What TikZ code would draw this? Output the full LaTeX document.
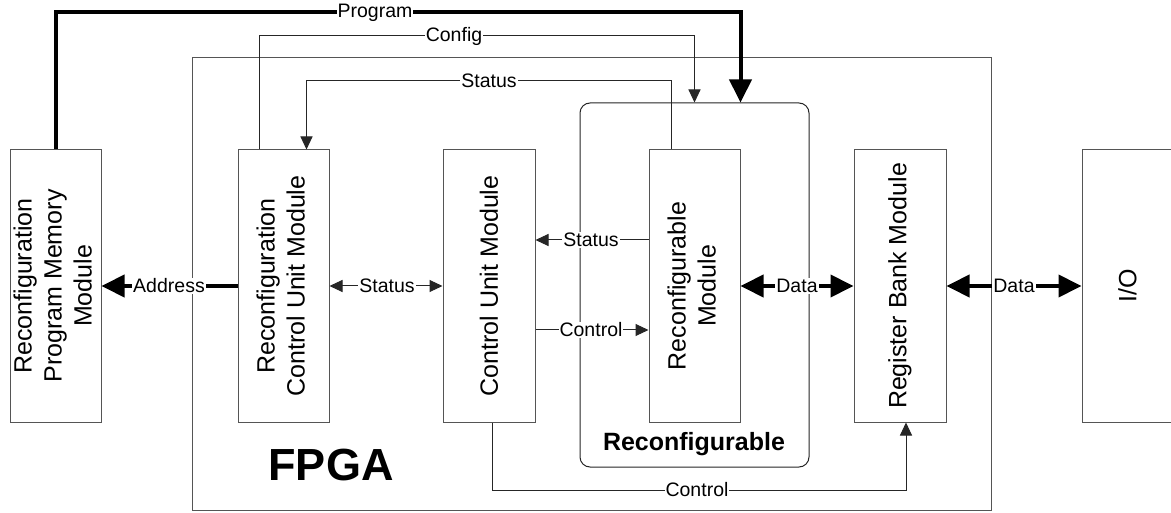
\documentclass[tikz,border=0pt]{standalone}
\usepackage{fontspec}
\setmainfont{Liberation Sans}
\usetikzlibrary{arrows.meta,calc}
\definecolor{edge}{RGB}{85,85,85}
\begin{document}
\begin{tikzpicture}[x=1pt,y=-1pt,
  box/.style={draw=edge, line width=1pt, inner sep=0pt, minimum height=272pt,
    font=\fontsize{25}{30}\selectfont},
  lbl/.style={fill=white, inner sep=1pt, font=\fontsize{19.5}{22}\selectfont},
  conn/.style={draw=black!85, line width=1pt},
  tarrow/.style={conn, -{Triangle[length=13pt,width=12pt]}},
  tarrows/.style={conn, {Triangle[length=13pt,width=12pt]}-{Triangle[length=13pt,width=12pt]}},
  tharrow/.style={draw=black, line width=4pt, -{Triangle[length=23pt,width=22pt]}},
  tharrows/.style={draw=black, line width=4pt, {Triangle[length=23pt,width=22pt]}-{Triangle[length=23pt,width=22pt]}},
]
\useasboundingbox (0,0) rectangle (1171,513);
\clip (0,0) rectangle (1171,513);
\fill[white] (0,0) rectangle (1171,513);

% containers
\node[draw=edge, line width=1pt, minimum width=799pt, minimum height=452pt, inner sep=0pt] (fpga) at (591.5,284) {};
\node[font=\bfseries\fontsize{45}{54}\selectfont] (fpgalbl) at (331,465) {FPGA};
\node[draw=black!85, line width=1pt, rounded corners=10pt, minimum width=229pt, minimum height=364pt, inner sep=0pt] (rc) at (694.5,285) {};
\node[font=\bfseries\fontsize{25}{30}\selectfont] (rclbl) at (694,444) {Reconfigurable};

% modules
\node[box, minimum width=91pt, fill=white] (mem) at (55.5,286) {\rotatebox{90}{\begin{tabular}{@{}c@{}}Reconfiguration\\Program Memory\\Module\end{tabular}}};
\node[box, minimum width=91pt, fill=white] (rcu) at (283.5,286) {\rotatebox{90}{\begin{tabular}{@{}c@{}}Reconfiguration\\Control Unit Module\end{tabular}}};
\node[box, minimum width=92pt, fill=white] (cu) at (489,286) {\rotatebox{90}{Control Unit Module}};
\node[box, minimum width=91pt, fill=white] (rm) at (694.5,286) {\rotatebox{90}{\begin{tabular}{@{}c@{}}Reconfigurable\\Module\end{tabular}}};
\node[box, minimum width=92pt, fill=white] (rb) at (900,286) {\rotatebox{90}{Register Bank Module}};
\node[box, minimum width=91pt, fill=white] (io) at (1127.5,286) {\rotatebox{90}{I/O}};

% connectors
\draw[tharrow] (mem.north) -- ++(0,-137) -| (rc.north -| rm.east);
\node[lbl] (lprog) at (375,13) {Program};

\draw[tarrow] ($(rcu.north west)+(22,0)$) -- ++(0,-114) -| (rc.north -| rm.center);
\node[lbl] (lconfig) at (454,36) {Config};

\draw[tarrow] ($(rm.north west)+(23,0)$) -- ++(0,-69) -| ($(rcu.north east)+(-23,0)$);
\node[lbl] (lstat1) at (489,81) {Status};

\draw[tharrow] (rcu.west) -- (mem.east);
\node[lbl] (laddr) at (169,286) {Address};

\draw[tarrows] (rcu.east) -- (cu.west);
\node[lbl] (lstat2) at (387,286) {Status};

\draw[tarrow] ($(rm.west)+(0,-46)$) -- ($(cu.east)+(0,-46)$);
\node[lbl] (lstat3) at (591,240) {Status};

\draw[tarrow] ($(cu.east)+(0,44)$) -- ($(rm.west)+(0,44)$);
\node[lbl] (lctrl1) at (591,330) {Control};

\draw[tharrows] (rm.east) -- (rb.west);
\node[lbl] (ldata1) at (797,286) {Data};

\draw[tharrows] (rb.east) -- (io.west);
\node[lbl] (ldata2) at (1014,286) {Data};

\draw[tarrow] ($(cu.south)+(3,0)$) -- ++(0,68) -| ($(rb.south)+(6,0)$);
\node[lbl] (lctrl2) at (697,490) {Control};
\end{tikzpicture}
\end{document}
